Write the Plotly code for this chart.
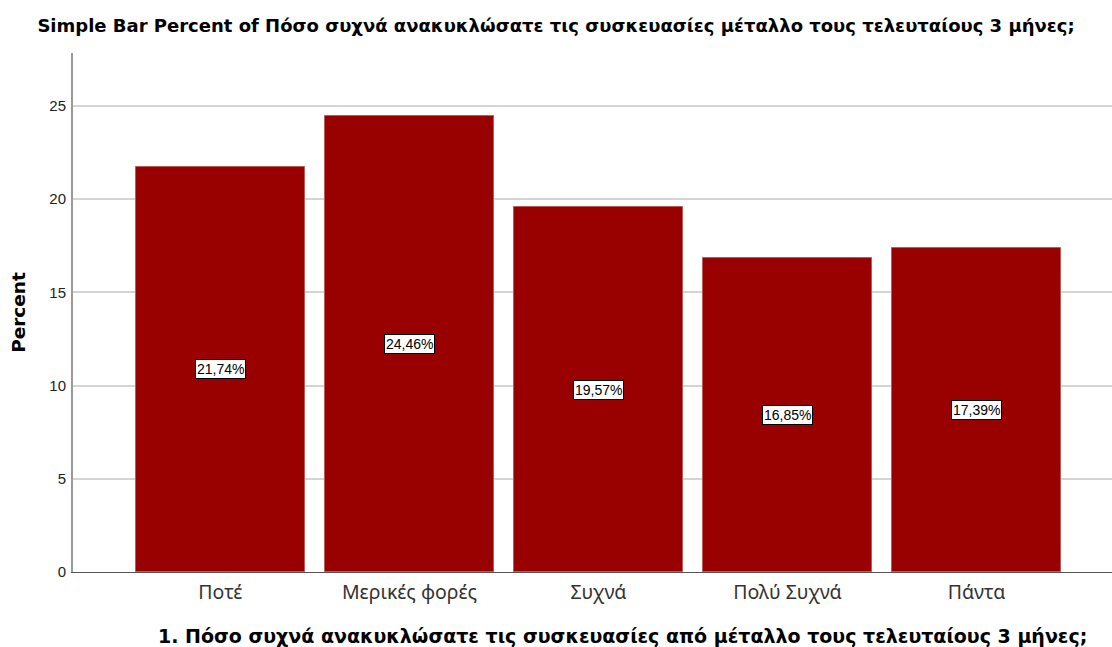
import plotly.graph_objects as go

# Frequency categories and their percentages
categories = ["Ποτέ", "Μερικές φορές", "Συχνά", "Πολύ Συχνά", "Πάντα"]
percents = [21.74, 24.46, 19.57, 16.85, 17.39]
y_ticks = [0, 5, 10, 15, 20, 25]

title_text = "Simple Bar Percent of Πόσο συχνά ανακυκλώσατε τις συσκευασίες μέταλλο τους τελευταίους 3 μήνες;"
x_title = "1. Πόσο συχνά ανακυκλώσατε τις συσκευασίες από μέταλλο τους τελευταίους 3 μήνες;"
y_title = "Percent"

bar_color = "#990000"
bold_font = "DejaVu Sans, Liberation Sans, Arial"

fig = go.Figure()
fig.add_trace(go.Bar(
    x=list(range(len(categories))),
    y=percents,
    width=0.894,
    marker=dict(color=bar_color, line=dict(color="#b85c5c", width=1)),
    hoverinfo="skip",
))

# value labels in boxes at the middle of each bar
for i, v in enumerate(percents):
    fig.add_annotation(
        x=i, y=v / 2, xref="x", yref="y",
        text=f"{v:.2f}%".replace(".", ","),
        showarrow=False,
        bgcolor="white", bordercolor="black", borderwidth=1, borderpad=1,
        font=dict(family="Liberation Sans, Arial", size=14, color="black"),
    )

# category-axis title
fig.add_annotation(
    x=0.529, y=-0.124, xref="paper", yref="paper",
    xanchor="center", yanchor="middle", showarrow=False,
    text=x_title,
    font=dict(family=bold_font, size=19, color="black", weight="bold"),
)

fig.update_layout(
    width=1112, height=647,
    margin=dict(l=73, r=0, t=53, b=75),
    paper_bgcolor="white", plot_bgcolor="white",
    showlegend=False,
    bargap=0,
    title=dict(
        text=title_text, x=0.5, xref="container", xanchor="center",
        y=0.961, yanchor="middle",
        font=dict(family=bold_font, size=18, color="black", weight="bold"),
    ),
    xaxis=dict(
        tickmode="array", tickvals=list(range(len(categories))), ticktext=categories,
        range=[-0.78, 4.717],
        showgrid=False, zeroline=False,
        showline=True, linecolor="#555555", linewidth=1,
        ticks="", ticklabelstandoff=3,
        tickfont=dict(family="Noto Sans, Liberation Sans", size=19.5, color="#333333"),
    ),
    yaxis=dict(
        range=[0, 27.84],
        tickvals=y_ticks,
        showgrid=True, gridcolor="#d4d4d4", gridwidth=2,
        zeroline=False,
        showline=True, linecolor="#999999", linewidth=2,
        ticks="", ticklabelstandoff=2,
        tickfont=dict(family="Liberation Sans, Arial", size=15, color="#222222"),
        title=dict(text=y_title, standoff=19,
                   font=dict(family=bold_font, size=18.5, color="black", weight="bold")),
    ),
)

fig.write_html("out.html")
